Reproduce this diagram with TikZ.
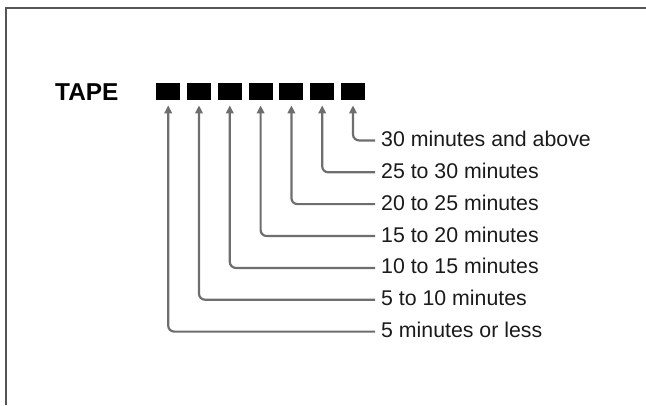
\documentclass[tikz,border=0pt]{standalone}
\usepackage{fontspec}
\setmainfont{Liberation Sans}
\usetikzlibrary{arrows.meta}
\definecolor{arrgray}{HTML}{6E6E6E}
\definecolor{txt}{HTML}{1A1A1A}
\definecolor{frame}{HTML}{555555}
\tikzset{
  tapebox/.style={fill=black, draw=none, minimum width=24pt, minimum height=17pt, inner sep=0pt, anchor=north west},
  lab/.style={anchor=west, inner xsep=6pt, inner ysep=0pt, text height=12pt, text depth=0pt, text=txt,
    font=\fontsize{21.3}{24}\selectfont},
  arr/.style={draw=arrgray, line width=2.2pt, rounded corners=6pt, shorten >=5.7pt,
    -{Triangle[length=8pt,width=7.5pt]}},
}
\begin{document}
\begin{tikzpicture}[x=1pt,y=-1pt]
\useasboundingbox (0,0) rectangle (646,405);
\draw[frame, line width=1.8pt] (6,405) -- (6,8) -- (646,8);
\node[anchor=base west, inner sep=0pt, font=\fontsize{24.4}{28}\selectfont\bfseries] (tape) at (55,100.7) {TAPE};
\foreach \i in {0,...,6} {
  \node[tapebox] (b\i) at ({156+30.8*\i},82.3) {};
}
\node[lab] (l6) at (375,140.4) {30 minutes and above};
\node[lab] (l5) at (375,172.3) {25 to 30 minutes};
\node[lab] (l4) at (375,204.1) {20 to 25 minutes};
\node[lab] (l3) at (375,236.0) {15 to 20 minutes};
\node[lab] (l2) at (375,267.9) {10 to 15 minutes};
\node[lab] (l1) at (375,299.7) {5 to 10 minutes};
\node[lab] (l0) at (375,331.6) {5 minutes or less};
\foreach \i in {0,...,6} {
  \draw[arr] (l\i.west) -| (b\i.south);
}
\end{tikzpicture}
\end{document}
